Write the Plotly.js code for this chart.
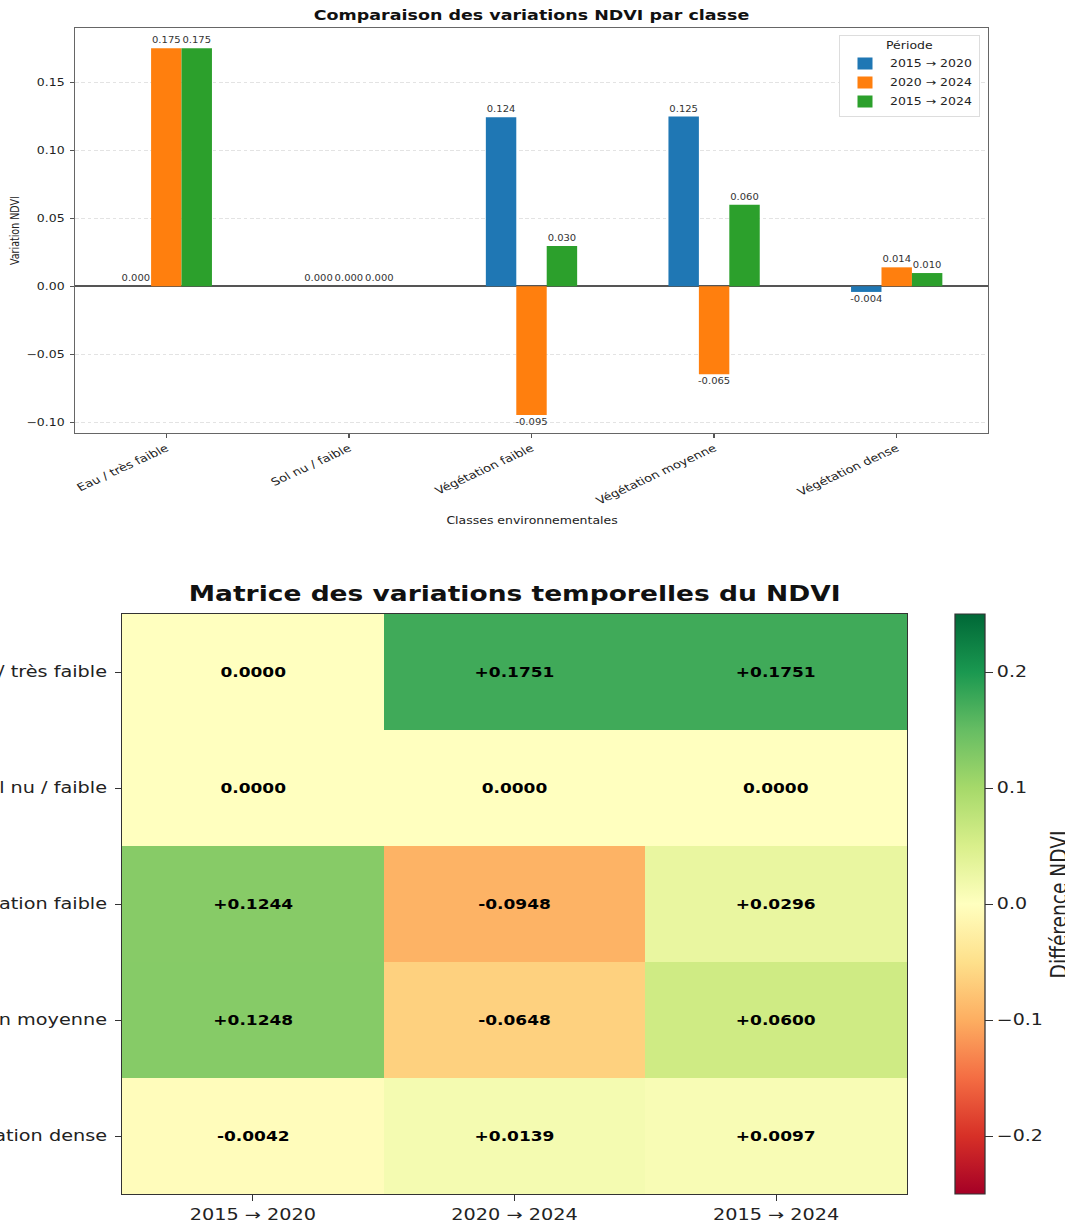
<!DOCTYPE html>
<html>
<head>
<meta charset="utf-8">
<script src="https://cdn.plot.ly/plotly-3.0.1.min.js"></script>
<style>
  html, body { margin: 0; padding: 0; background: #fff; overflow: hidden; width: 1065px; height: 1230px; }
  #chart { width: 852px; height: 1230px; transform: scaleX(1.25); transform-origin: 0 0; }
</style>
</head>
<body>
<div id="chart"></div>
<script>
// ---- Data ----
const classes = ['Eau / très faible', 'Sol nu / faible', 'Végétation faible', 'Végétation moyenne', 'Végétation dense'];
const periods = ['2015 → 2020', '2020 → 2024', '2015 → 2024'];
const d2015_2020 = [0.0000, 0.0000, 0.1244, 0.1248, -0.0042];
const d2020_2024 = [0.1751, 0.0000, -0.0948, -0.0648, 0.0139];
const d2015_2024 = [0.1751, 0.0000, 0.0296, 0.0600, 0.0097];
const barColors = ['#1f77b4', '#ff7f0e', '#2ca02c'];
const yTickVals = [-0.10, -0.05, 0.00, 0.05, 0.10, 0.15];
const cbTickVals = [-0.2, -0.1, 0.0, 0.1, 0.2];
const cbTickText = ['\u22120.2', '\u22120.1', '0.0', '0.1', '0.2'];

const series = [d2015_2020, d2020_2024, d2015_2024];

// matplotlib RdYlGn
const rdylgn = [
  [0.0, '#a50026'], [0.1, '#d73027'], [0.2, '#f46d43'], [0.3, '#fdae61'],
  [0.4, '#fee08b'], [0.5, '#ffffbf'], [0.6, '#d9ef8b'], [0.7, '#a6d96a'],
  [0.8, '#66bd63'], [0.9, '#1a9850'], [1.0, '#006837']
];

// final picture size; the plot is drawn narrower and stretched horizontally (CSS)
const W = 1065, H = 1230;
const K = 0.8;               // horizontal pre-stretch factor
const W0 = Math.round(W * K);
const px = v => v / W;
const py = v => 1 - v / H;
const hx = v => v * K;       // horizontal pixel lengths before stretch
const FONT = 'DejaVu Sans, sans-serif';

const traces = [];
series.forEach((vals, k) => {
  traces.push({
    type: 'bar',
    name: periods[k],
    x: classes,
    y: vals,
    marker: { color: barColors[k], line: { width: 0 } },
    text: vals.map(v => v.toFixed(3)),
    textposition: 'outside',
    constraintext: 'none',
    cliponaxis: false,
    textfont: { family: FONT, size: 8, color: '#333' },
    xaxis: 'x', yaxis: 'y',
    hoverinfo: 'skip'
  });
});

// heatmap
const z = classes.map((c, i) => series.map(s => s[i]));
const ztext = z.map(row => row.map(v => (v > 0 ? '+' : '') + v.toFixed(4)));
traces.push({
  type: 'heatmap',
  x: periods,
  y: classes,
  z: z,
  text: ztext,
  texttemplate: '%{text}',
  textfont: { family: FONT, size: 13.6, color: '#000', weight: 'bold' },
  colorscale: rdylgn,
  zmin: -0.25, zmax: 0.25,
  xaxis: 'x2', yaxis: 'y2',
  showlegend: false,
  hoverinfo: 'skip',
  colorbar: {
    x: px(955), xanchor: 'left', xpad: 0,
    y: py(904), yanchor: 'middle', ypad: 0,
    thickness: hx(30), thicknessmode: 'pixels',
    len: 580, lenmode: 'pixels',
    outlinecolor: '#333', outlinewidth: 1,
    tickvals: cbTickVals, ticktext: cbTickText,
    ticks: 'outside', ticklen: hx(8), tickcolor: '#333',
    tickfont: { family: FONT, size: 15.2, color: '#222' }
  }
});

const layout = {
  width: W0, height: H,
  margin: { l: 0, r: 0, t: 0, b: 0 },
  paper_bgcolor: '#fff', plot_bgcolor: '#fff',
  font: { family: FONT, color: '#222' },
  showlegend: true,
  barmode: 'group',
  bargap: 0.5, bargroupgap: 0,
  title: {
    text: 'Comparaison des variations NDVI par classe',
    x: px(531.5), xanchor: 'center', xref: 'paper',
    y: py(15), yanchor: 'middle', yref: 'paper',
    font: { family: FONT, size: 14, weight: 'bold', color: '#111' }
  },
  xaxis: {
    domain: [px(75), px(988)],
    anchor: 'y',
    type: 'category',
    range: [-0.5, 4.5],
    showgrid: false,
    showline: true, mirror: true, linecolor: '#666', linewidth: 1.3,
    ticks: 'outside', ticklen: 4, tickcolor: '#555',
    tickangle: -30,
    tickfont: { family: FONT, size: 10.5, color: '#222' },
    automargin: false
  },
  yaxis: {
    domain: [py(433), py(28)],
    anchor: 'x',
    range: [-0.108, 0.19],
    tickvals: yTickVals,
    tickformat: '.2f',
    showgrid: true, gridcolor: '#e3e3e3', griddash: '3px,2px', gridwidth: 1,
    zeroline: true, zerolinecolor: '#555', zerolinewidth: 1.5,
    showline: true, mirror: true, linecolor: '#666', linewidth: 1.1,
    ticks: 'outside', ticklen: hx(4), tickcolor: '#555',
    ticklabelstandoff: 2,
    tickfont: { family: FONT, size: 10, color: '#222' },
    automargin: false
  },
  xaxis2: {
    domain: [px(122), px(907)],
    anchor: 'y2',
    type: 'category',
    showgrid: false, zeroline: false,
    showline: true, mirror: true, linecolor: '#333', linewidth: 1.3,
    ticks: 'outside', ticklen: 6, tickcolor: '#333',
    tickfont: { family: FONT, size: 15.4, color: '#222' },
    automargin: false
  },
  yaxis2: {
    domain: [py(1194), py(614)],
    anchor: 'x2',
    type: 'category',
    autorange: 'reversed',
    showgrid: false, zeroline: false,
    showline: true, mirror: true, linecolor: '#333', linewidth: 1.1,
    ticks: 'outside', ticklen: hx(6), tickcolor: '#333',
    ticklabelstandoff: 3,
    tickfont: { family: FONT, size: 15.4, color: '#222' },
    automargin: false
  },
  legend: {
    x: px(980), xanchor: 'right', xref: 'paper',
    y: py(35), yanchor: 'top', yref: 'paper',
    bgcolor: '#fff', bordercolor: '#ddd', borderwidth: 1,
    font: { family: FONT, size: 10, color: '#222' },
    title: { text: 'Période', side: 'top center', font: { family: FONT, size: 10, color: '#222' } },
    tracegroupgap: 0
  },
  annotations: [{
    text: 'Classes environnementales',
    xref: 'paper', yref: 'paper',
    x: px(531.5), xanchor: 'center',
    y: py(520), yanchor: 'middle',
    showarrow: false,
    font: { family: FONT, size: 10, color: '#222' }
  }, {
    text: 'Variation NDVI',
    xref: 'paper', yref: 'paper',
    x: px(15), xanchor: 'center',
    y: py(231), yanchor: 'middle',
    textangle: -90,
    showarrow: false,
    font: { family: FONT, size: 9.5, color: '#222' }
  }, {
    text: 'Matrice des variations temporelles du NDVI',
    xref: 'paper', yref: 'paper',
    x: px(514.5), xanchor: 'center',
    y: py(593), yanchor: 'middle',
    showarrow: false,
    font: { family: FONT, size: 21.2, weight: 'bold', color: '#111' }
  }, {
    text: 'Différence NDVI',
    xref: 'paper', yref: 'paper',
    x: px(1058), xanchor: 'center',
    y: py(904), yanchor: 'middle',
    textangle: -90,
    showarrow: false,
    font: { family: FONT, size: 18.6, color: '#222' }
  }]
};

Plotly.newPlot('chart', traces, layout, { staticPlot: true, displayModeBar: false });
</script>
</body>
</html>
